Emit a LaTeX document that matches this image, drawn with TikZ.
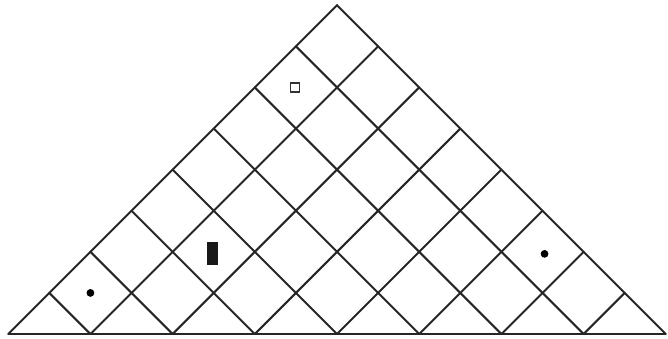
\documentclass[tikz,border=0pt]{standalone}
\begin{document}
\begin{tikzpicture}[x=0.5cm,y=0.5cm,
  grid/.style={line width=0.7pt, black!85, line cap=round},
  baseline/.style={line width=1pt, black!85},
  dotmark/.style={circle, fill=black, draw=none, inner sep=0pt, minimum size=0.095cm},
  openmark/.style={rectangle, draw=black!80, line width=0.5pt, fill=white, inner sep=0pt, minimum size=0.11cm},
  barmark/.style={rectangle, fill=black!90, draw=none, inner sep=0pt, minimum width=0.13cm, minimum height=0.28cm}]
\useasboundingbox (-8.2,-0.097) rectangle (8.053,8.127);
\coordinate (L) at (-8,0);
\coordinate (R) at (8,0);
\coordinate (A) at (0,8);
\draw[grid] (L) -- (A) -- (R);
\draw[baseline] (L) -- (R);
\foreach \k in {1,...,7} {
  \pgfmathsetmacro\xa{-8+2*\k}
  \draw[grid] (\xa,0) -- ({(8+\xa)/2},{(8-\xa)/2});
  \draw[grid] (-\xa,0) -- ({(-\xa-8)/2},{(-\xa+8)/2});
}
\node[dotmark] (d1) at (-6,1) {};
\node[dotmark] (d2) at (5.05,1.95) {};
\node[openmark] (sq) at (-1.02,6) {};
\node[barmark] (bar) at (-3.03,1.96) {};
\end{tikzpicture}
\end{document}
